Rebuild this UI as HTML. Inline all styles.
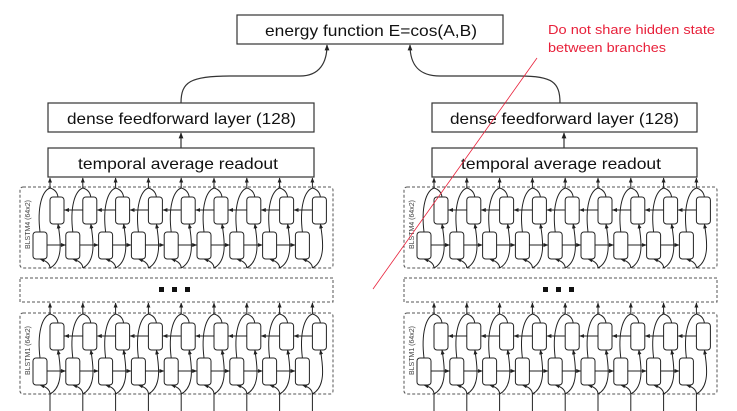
<!DOCTYPE html>
<html><head><meta charset="utf-8"><style>
html,body{margin:0;padding:0;background:#fff;width:737px;height:411px;overflow:hidden}
svg{display:block}
text{font-family:"Liberation Sans",sans-serif}
</style></head><body>
<svg id="s" width="737" height="411" viewBox="0 0 737 411" xmlns="http://www.w3.org/2000/svg">
<defs>
<marker id="a" viewBox="0 0 10 10" refX="9" refY="5" markerWidth="5" markerHeight="5" orient="auto"><path d="M0,1 L10,5 L0,9 z" fill="#222"/></marker>
</defs>
<g fill="none" stroke="#333" stroke-width="1.2">
<rect x="237" y="15" width="266" height="29" fill="#fff"/>
<rect x="48" y="103" width="266" height="29"/>
<rect x="48" y="148" width="266" height="29"/>
<rect x="432" y="103" width="265" height="29"/>
<rect x="432" y="148" width="265" height="29"/>
<path d="M181,148 V133" marker-end="url(#a)"/>
<path d="M564,148 V133" marker-end="url(#a)"/>
<path d="M181,103 C181,82 190,76 230,76 L300,76 C320,76 327,62 327,45" marker-end="url(#a)"/>
<path d="M560,103 C560,82 552,76 520,76 L440,76 C418,76 410,64 410,45" marker-end="url(#a)"/>
</g>
<g font-size="16" fill="#111">
<text x="265" y="36" textLength="212" lengthAdjust="spacingAndGlyphs">energy function E=cos(A,B)</text>
<text x="67" y="124" textLength="229" lengthAdjust="spacingAndGlyphs">dense feedforward layer (128)</text>
<text x="78" y="169" textLength="200" lengthAdjust="spacingAndGlyphs">temporal average readout</text>
<text x="450" y="124" textLength="229" lengthAdjust="spacingAndGlyphs">dense feedforward layer (128)</text>
<text x="461" y="169" textLength="200" lengthAdjust="spacingAndGlyphs">temporal average readout</text>
</g>
<g id="net"></g>
<text x="548" y="34" font-size="13" fill="#e8203a" textLength="167" lengthAdjust="spacingAndGlyphs">Do not share hidden state</text>
<text x="548" y="52" font-size="13" fill="#e8203a" textLength="118" lengthAdjust="spacingAndGlyphs">between branches</text>
<line x1="537" y1="58" x2="373" y2="289" stroke="#e8203a" stroke-width="0.8"/>
</svg>
<script>
var g=document.getElementById('net'),h='';
function blk(bx,Y,top,label){
 h+='<rect x="'+bx+'" y="'+Y+'" width="313" height="81" rx="3" fill="none" stroke="#555" stroke-dasharray="3,2"/>';
 h+='<text transform="translate('+(bx+10)+','+(Y+62)+') rotate(-90)" font-size="7" font-family="Liberation Serif,serif" fill="#444">'+label+'</text>';
 for(var i=0;i<9;i++){
  var c=bx+30+i*32.8;
  h+='<g fill="none" stroke="#222" stroke-width="1">';
  h+='<rect x="'+c+'" y="'+(Y+10)+'" width="14" height="27" rx="3" fill="#fff"/>';
  h+='<rect x="'+(c-17)+'" y="'+(Y+45)+'" width="14" height="27" rx="3" fill="#fff"/>';
  h+='<path d="M'+c+','+(Y+81)+' Q'+c+','+(Y+75)+' '+(c-10)+','+(Y+72)+'" marker-end="url(#a)"/>';
  h+='<path d="M'+c+','+(Y+81)+' C'+(c+13)+','+(Y+74)+' '+(c+11)+','+(Y+55)+' '+(c+8)+','+(Y+37)+'" marker-end="url(#a)"/>';
  h+='<path d="M'+(c-10)+','+(Y+45)+' C'+(c-13)+','+(Y+20)+' '+(c-8)+','+(Y+4)+' '+c+','+(Y+1)+'"/>';
  h+='<path d="M'+(c+8)+','+(Y+10)+' Q'+(c+7)+','+(Y+3)+' '+c+','+(Y+1)+'"/>';
  h+='<path d="M'+c+','+(Y+1)+' V'+(top+1)+'" marker-end="url(#a)"/>';
  if(i<8){
   h+='<path d="M'+(c-3)+','+(Y+58)+' H'+(c+15.5)+'" marker-end="url(#a)"/>';
   h+='<path d="M'+(c+32.5)+','+(Y+23)+' H'+(c+14.5)+'" marker-end="url(#a)"/>';
  }
  h+='</g>';
 }
}
[20,404].forEach(function(bx){
 blk(bx,187,177,'BLSTM4 (64x2)');
 h+='<rect x="'+bx+'" y="278" width="313" height="24" fill="none" stroke="#555" stroke-dasharray="3,2"/>';
 for(var k=0;k<3;k++)h+='<rect x="'+(bx+139+k*13)+'" y="287" width="5" height="5" fill="#111"/>';
 blk(bx,313,302,'BLSTM1 (64x2)');
 for(var i=0;i<9;i++){var c=bx+30+i*32.8;h+='<line x1="'+c+'" y1="394" x2="'+c+'" y2="411" stroke="#222"/>';}
});
g.innerHTML=h;
</script>
</body></html>
